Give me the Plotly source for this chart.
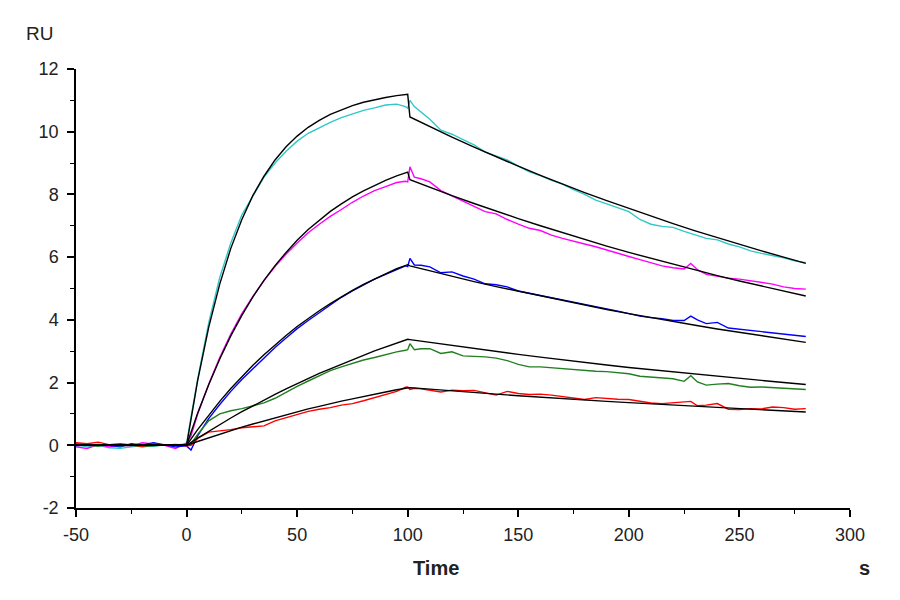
import plotly.graph_objects as go

# sensorgram data (time in s, response in RU)
t_data = [-50, -45, -40, -35, -30, -25, -20, -15, -10, -5, 0,
          2, 5, 10, 15, 20, 25, 30, 35, 40, 45, 50, 55, 60, 65, 70, 75, 80, 85, 90, 95,
          99, 100, 101, 103, 106,
          110, 115, 120, 125, 130, 135, 140, 145, 150, 155, 160, 165, 170, 175, 180,
          185, 190, 195, 200, 205, 210, 215, 220, 225, 228, 231,
          235, 240, 245, 250, 255, 260, 265, 270, 275, 280]

cyan_data = [0.02, -0.05, 0.0, -0.08, -0.1, -0.05, 0.0, -0.03, 0.02, 0.0, 0.05,
             0.9, 2.1, 3.9, 5.35, 6.45, 7.35, 7.95, 8.55, 9.0, 9.38, 9.7, 9.95, 10.12, 10.3, 10.45, 10.56, 10.68, 10.76, 10.85, 10.88,
             10.8, 10.75, 11.0, 10.8, 10.62,
             10.4, 10.05, 9.92, 9.75, 9.58, 9.35, 9.22, 9.1, 8.9, 8.72, 8.6, 8.45, 8.33, 8.15, 8.0,
             7.82, 7.7, 7.58, 7.45, 7.2, 7.05, 6.98, 6.95, 6.82, 6.75, 6.7,
             6.6, 6.55, 6.42, 6.33, 6.2, 6.12, 6.05, 5.98, 5.88, 5.82]

magenta_data = [-0.05, -0.1, 0.02, -0.05, 0.0, -0.02, 0.08, 0.05, 0.0, -0.1, 0.08,
                0.3, 1.0, 1.95, 2.8, 3.55, 4.2, 4.75, 5.25, 5.7, 6.1, 6.45, 6.78, 7.05, 7.3, 7.52, 7.75, 7.95, 8.12, 8.25, 8.38,
                8.42, 8.4, 8.88, 8.55, 8.5,
                8.4, 8.12, 7.95, 7.78, 7.62, 7.45, 7.38, 7.2, 7.05, 6.92, 6.85, 6.7, 6.6, 6.52, 6.42,
                6.33, 6.22, 6.12, 6.02, 5.92, 5.82, 5.72, 5.66, 5.62, 5.8, 5.6,
                5.45, 5.38, 5.33, 5.3, 5.25, 5.2, 5.14, 5.05, 5.0, 4.98]

blue_data = [-0.02, 0.0, 0.03, 0.0, -0.05, 0.05, 0.0, 0.08, 0.02, -0.05, -0.02,
             -0.15, 0.3, 0.85, 1.3, 1.72, 2.1, 2.45, 2.8, 3.12, 3.42, 3.72, 3.98, 4.22, 4.48, 4.72, 4.92, 5.12, 5.3, 5.45, 5.6,
             5.72, 5.7, 5.96, 5.75, 5.74,
             5.69, 5.5, 5.53, 5.4, 5.3, 5.15, 5.12, 5.05, 4.92, 4.85, 4.78, 4.7, 4.63, 4.58, 4.5,
             4.42, 4.35, 4.28, 4.2, 4.12, 4.07, 4.04, 3.98, 3.98, 4.12, 4.0,
             3.88, 3.92, 3.74, 3.7, 3.66, 3.63, 3.6, 3.55, 3.5, 3.47]

green_data = [0.05, 0.0, -0.03, 0.02, -0.02, 0.0, -0.05, -0.02, 0.0, 0.03, 0.0,
              0.05, 0.35, 0.78, 1.0, 1.1, 1.17, 1.25, 1.35, 1.5, 1.7, 1.88, 2.05, 2.22, 2.38, 2.5, 2.62, 2.72, 2.8, 2.9, 2.98,
              3.03, 3.05, 3.24, 3.05, 3.08,
              3.08, 2.93, 2.98, 2.85, 2.84, 2.82, 2.78, 2.7, 2.58, 2.5, 2.5, 2.47, 2.45, 2.4, 2.38,
              2.36, 2.35, 2.32, 2.28, 2.2, 2.18, 2.16, 2.12, 2.04, 2.22, 2.02,
              1.92, 1.95, 1.97, 1.9, 1.85, 1.86, 1.84, 1.82, 1.8, 1.78]

red_data = [0.08, 0.05, 0.1, 0.02, 0.05, 0.0, -0.03, 0.05, 0.0, 0.02, -0.02,
            0.0, 0.22, 0.42, 0.45, 0.5, 0.56, 0.58, 0.62, 0.78, 0.88, 0.98, 1.08, 1.15, 1.2, 1.28, 1.33, 1.42, 1.52, 1.62, 1.72,
            1.85, 1.86, 1.78, 1.82, 1.8,
            1.75, 1.7, 1.76, 1.74, 1.75, 1.68, 1.6, 1.72, 1.65, 1.62, 1.63, 1.6, 1.55, 1.5, 1.46,
            1.52, 1.49, 1.47, 1.46, 1.4, 1.35, 1.33, 1.35, 1.38, 1.4, 1.26,
            1.28, 1.33, 1.15, 1.14, 1.17, 1.16, 1.22, 1.2, 1.15, 1.17]

# fitted curves (black)
t_fit = [-50, 0, 5, 10, 15, 20, 25, 30, 35, 40, 45, 50, 55, 60, 65, 70, 75, 80, 85, 90, 95, 100,
         101, 110, 120, 130, 140, 150, 160, 170, 180, 190, 200, 210, 220, 230, 240, 250, 260, 270, 280]

cyan_fit = [0, 0, 2.06, 3.76, 5.14, 6.28, 7.2, 7.97, 8.58, 9.1, 9.52, 9.86, 10.14, 10.36, 10.55, 10.7,
            10.83, 10.94, 11.02, 11.09, 11.15, 11.19,
            10.47, 10.16, 9.83, 9.51, 9.2, 8.9, 8.61, 8.33, 8.06, 7.8, 7.55, 7.3, 7.07, 6.84, 6.62, 6.4, 6.2, 6.0, 5.8]
magenta_fit = [0, 0, 1.02, 1.93, 2.75, 3.49, 4.14, 4.73, 5.26, 5.73, 6.15, 6.54, 6.88, 7.18, 7.46, 7.7,
               7.92, 8.11, 8.29, 8.45, 8.59, 8.71,
               8.47, 8.22, 7.96, 7.71, 7.46, 7.23, 7.0, 6.78, 6.56, 6.35, 6.15, 5.96, 5.77, 5.59, 5.41, 5.24, 5.08, 4.92, 4.76]
blue_fit = [0, 0, 0.5, 0.96, 1.4, 1.81, 2.19, 2.55, 2.89, 3.21, 3.5, 3.79, 4.05, 4.29, 4.52, 4.74,
            4.94, 5.13, 5.31, 5.47, 5.63, 5.76,
            5.72, 5.56, 5.39, 5.22, 5.06, 4.91, 4.76, 4.61, 4.47, 4.33, 4.2, 4.07, 3.95, 3.83, 3.71, 3.6, 3.49, 3.38, 3.28]
green_fit = [0, 0, 0.23, 0.45, 0.66, 0.87, 1.07, 1.26, 1.44, 1.62, 1.8, 1.97, 2.13, 2.29, 2.44, 2.59,
             2.73, 2.87, 3.01, 3.13, 3.26, 3.38,
             3.37, 3.28, 3.18, 3.08, 2.99, 2.9, 2.81, 2.72, 2.64, 2.56, 2.48, 2.41, 2.33, 2.26, 2.19, 2.13, 2.06, 2.0, 1.94]
red_fit = [0, 0, 0.12, 0.24, 0.36, 0.47, 0.58, 0.68, 0.78, 0.88, 0.98, 1.07, 1.16, 1.24, 1.33, 1.41,
           1.48, 1.56, 1.63, 1.7, 1.77, 1.84,
           1.84, 1.79, 1.73, 1.68, 1.63, 1.58, 1.53, 1.49, 1.44, 1.4, 1.36, 1.32, 1.28, 1.24, 1.2, 1.17, 1.13, 1.1, 1.06]

x_ticks = [-50, 0, 50, 100, 150, 200, 250, 300]
y_ticks = [-2, 0, 2, 4, 6, 8, 10, 12]

series = [
    (cyan_data, cyan_fit, "#30c8c8"),
    (magenta_data, magenta_fit, "#ff00ff"),
    (blue_data, blue_fit, "#0000ff"),
    (green_data, green_fit, "#208020"),
    (red_data, red_fit, "#ff0000"),
]

fig = go.Figure()

for data, fit, color in series:
    fig.add_trace(go.Scatter(
        x=t_data, y=data,
        mode="lines",
        line=dict(color=color, width=1.4),
        showlegend=False,
    ))

for data, fit, color in series:
    fig.add_trace(go.Scatter(
        x=t_fit, y=fit,
        mode="lines",
        line=dict(color="black", width=1.4),
        showlegend=False,
    ))

font_family = "Liberation Sans, Arial, sans-serif"
tick_font = dict(family=font_family, size=18, color="#222222")

fig.update_xaxes(
    range=[-50, 300],
    tickvals=x_ticks,
    ticktext=[str(v) for v in x_ticks],
    showgrid=False, zeroline=False,
    showline=True, linecolor="black", linewidth=1.5,
    ticks="outside", ticklen=7, tickwidth=1.5, tickcolor="black",
    minor=dict(tickvals=[-25, 25, 75, 125, 175, 225, 275], ticks="outside",
               ticklen=4, tickwidth=1, tickcolor="black"),
    tickfont=tick_font,
    ticklabelstandoff=3,
)
fig.update_yaxes(
    range=[-2, 12],
    tickvals=y_ticks,
    ticktext=[str(v) for v in y_ticks],
    showgrid=False, zeroline=False,
    showline=True, linecolor="black", linewidth=1.5,
    ticks="outside", ticklen=7, tickwidth=1.5, tickcolor="black",
    minor=dict(tickvals=[-1, 1, 3, 5, 7, 9, 11], ticks="outside",
               ticklen=4, tickwidth=1, tickcolor="black"),
    tickfont=tick_font,
    ticklabelstandoff=5,
)

fig.add_annotation(text="<b>Time</b>", x=0.465, y=-0.137, xref="paper", yref="paper",
                   xanchor="center", yanchor="middle", showarrow=False,
                   font=dict(family=font_family, size=20, color="#222222"))
fig.add_annotation(text="<b>s</b>", x=1.019, y=-0.137, xref="paper", yref="paper",
                   xanchor="center", yanchor="middle", showarrow=False,
                   font=dict(family=font_family, size=20, color="#222222"))
fig.add_annotation(text="RU", x=-0.047, y=1.082, xref="paper", yref="paper",
                   xanchor="center", yanchor="middle", showarrow=False,
                   font=dict(family=font_family, size=19, color="#222222"))

# page body has an 8px margin, so shift the plot area back
fig.update_layout(
    width=900, height=600,
    plot_bgcolor="white", paper_bgcolor="white",
    margin=dict(l=68, r=58, t=61, b=100),
)

fig.write_html("out.html")
